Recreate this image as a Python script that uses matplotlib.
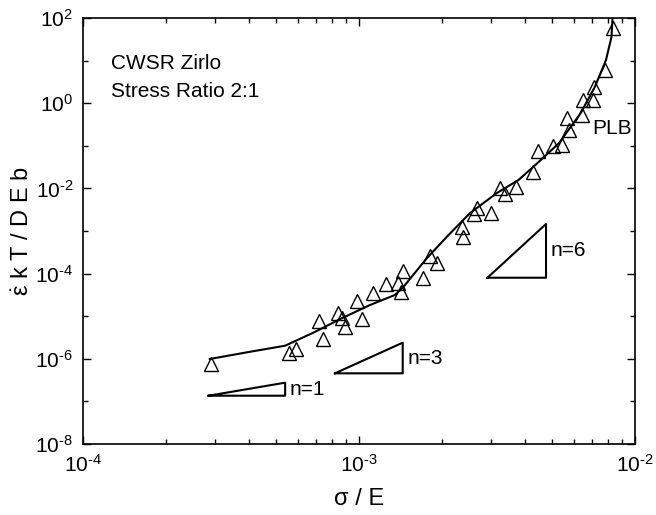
import numpy as np
import matplotlib
matplotlib.use("Agg")
from matplotlib import pyplot as plt
from matplotlib.ticker import FixedLocator, FuncFormatter, NullFormatter

plt.rcParams["font.family"] = ["Liberation Sans", "DejaVu Sans"]
plt.rcParams["mathtext.fontset"] = "custom"
plt.rcParams["mathtext.rm"] = "Liberation Sans"
plt.rcParams["mathtext.it"] = "Liberation Sans:italic"
plt.rcParams["axes.unicode_minus"] = False

# measured points (sigma/E, normalised strain rate)
stress = [2.92e-4, 5.59e-4, 5.92e-4, 7.38e-4, 7.18e-4, 8.37e-4, 8.65e-4, 8.9e-4,
          9.8e-4, 1.023e-3, 1.127e-3, 1.25e-3, 1.39e-3, 1.445e-3, 1.42e-3, 1.71e-3,
          1.81e-3, 1.91e-3, 2.36e-3, 2.39e-3, 2.68e-3, 2.62e-3, 3.02e-3, 3.24e-3,
          3.38e-3, 3.71e-3, 4.27e-3, 4.46e-3, 5.03e-3, 5.44e-3, 5.77e-3, 5.68e-3,
          6.45e-3, 6.49e-3, 7.06e-3, 7.12e-3, 7.78e-3, 8.29e-3]
rate = [7.4e-7, 1.39e-6, 1.73e-6, 2.87e-6, 7.86e-6, 1.21e-5, 8.9e-6, 5.48e-6,
        2.28e-5, 8.46e-6, 3.44e-5, 5.7e-5, 6.1e-5, 1.17e-4, 3.76e-5, 7.76e-5,
        2.59e-4, 1.74e-4, 1.26e-3, 7.35e-4, 3.4e-3, 2.47e-3, 2.6e-3, 1.0e-2,
        7.4e-3, 1.1e-2, 2.47e-2, 7.7e-2, 9.9e-2, 1.04e-1, 2.35e-1, 4.4e-1,
        5.3e-1, 1.19, 1.19, 2.36, 6.0, 57.0]

# fitted curve
fit_x = [2.88e-4, 4.0e-4, 5.4e-4, 6.83e-4, 8.65e-4, 1.096e-3, 1.35e-3, 1.45e-3,
         1.76e-3, 2.08e-3, 2.52e-3, 3.15e-3, 3.78e-3, 4.28e-3, 5.3e-3, 6.35e-3,
         7.16e-3, 7.85e-3, 8.22e-3, 8.29e-3]
fit_y = [9.9e-7, 1.45e-6, 2.03e-6, 4.1e-6, 8.9e-6, 1.83e-5, 3.15e-5, 4.9e-5,
         2.29e-4, 7.3e-4, 2.6e-3, 7.7e-3, 1.57e-2, 3.2e-2, 1.15e-1, 5.8e-1,
         2.44, 10.3, 36.0, 98.0]

# slope guide triangles: (x_left, x_right, y_bottom, y_top)
slope_n = [1, 3, 6]
slope_x0 = [2.85e-4, 8.18e-4, 2.92e-3]
slope_x1 = [5.4e-4, 1.44e-3, 4.76e-3]
slope_y0 = [1.36e-7, 4.56e-7, 8.0e-5]
slope_y1 = [2.75e-7, 2.39e-6, 1.46e-3]


def pow_label(v, pos):
    e = int(round(np.log10(v)))
    s = str(e).replace("-", "\u2010")
    return "$\\mathdefault{10^{" + s + "}}$"


fig = plt.figure(figsize=(6.56, 5.15), dpi=100)
ax = fig.add_axes([83 / 656, 71 / 515, 552 / 656, 426 / 515])
ax.set_xscale("log")
ax.set_yscale("log")
ax.set_xlim(1e-4, 1e-2)
ax.set_ylim(1e-8, 1e2)

ax.plot(fit_x, fit_y, color="black", lw=1.5, zorder=2)
ax.plot(stress, rate, linestyle="none", marker="^", ms=9.5, mfc="none",
        mec="black", mew=1.0, zorder=3)

for n, x0, x1, y0, y1 in zip(slope_n, slope_x0, slope_x1, slope_y0, slope_y1):
    ax.plot([x0, x1, x1, x0], [y0, y0, y1, y0], color="black", lw=1.5)
    ax.text(x1 * 1.04, np.sqrt(y0 * y1), f"n={n}", fontsize=15,
            ha="left", va="center")

ax.text(0.05, 0.893, "CWSR Zirlo", transform=ax.transAxes, fontsize=15,
        ha="left", va="center")
ax.text(0.05, 0.828, "Stress Ratio 2:1", transform=ax.transAxes, fontsize=15,
        ha="left", va="center")
ax.text(6.98e-3, 0.26, "PLB", fontsize=15, ha="left", va="center")

ax.xaxis.set_major_formatter(FuncFormatter(pow_label))
ax.xaxis.set_minor_formatter(NullFormatter())
ax.yaxis.set_major_locator(FixedLocator(10.0 ** np.arange(-8, 3, 2)))
ax.yaxis.set_minor_locator(FixedLocator(10.0 ** np.arange(-7, 2, 2)))
ax.yaxis.set_major_formatter(FuncFormatter(pow_label))
ax.yaxis.set_minor_formatter(NullFormatter())

ax.tick_params(which="both", direction="in", top=True, right=True,
               labelsize=15, width=1.0)
ax.tick_params(which="major", length=6, pad=7)
ax.tick_params(which="minor", length=3.5)
for s in ax.spines.values():
    s.set_linewidth(1.2)

ax.set_xlabel("σ / E", fontsize=17, labelpad=9)
ax.set_ylabel(r"$\dot{\mathrm{\varepsilon}}$ k T / D E b", fontsize=17,
              labelpad=1)

fig.savefig("out.png", dpi=100)
